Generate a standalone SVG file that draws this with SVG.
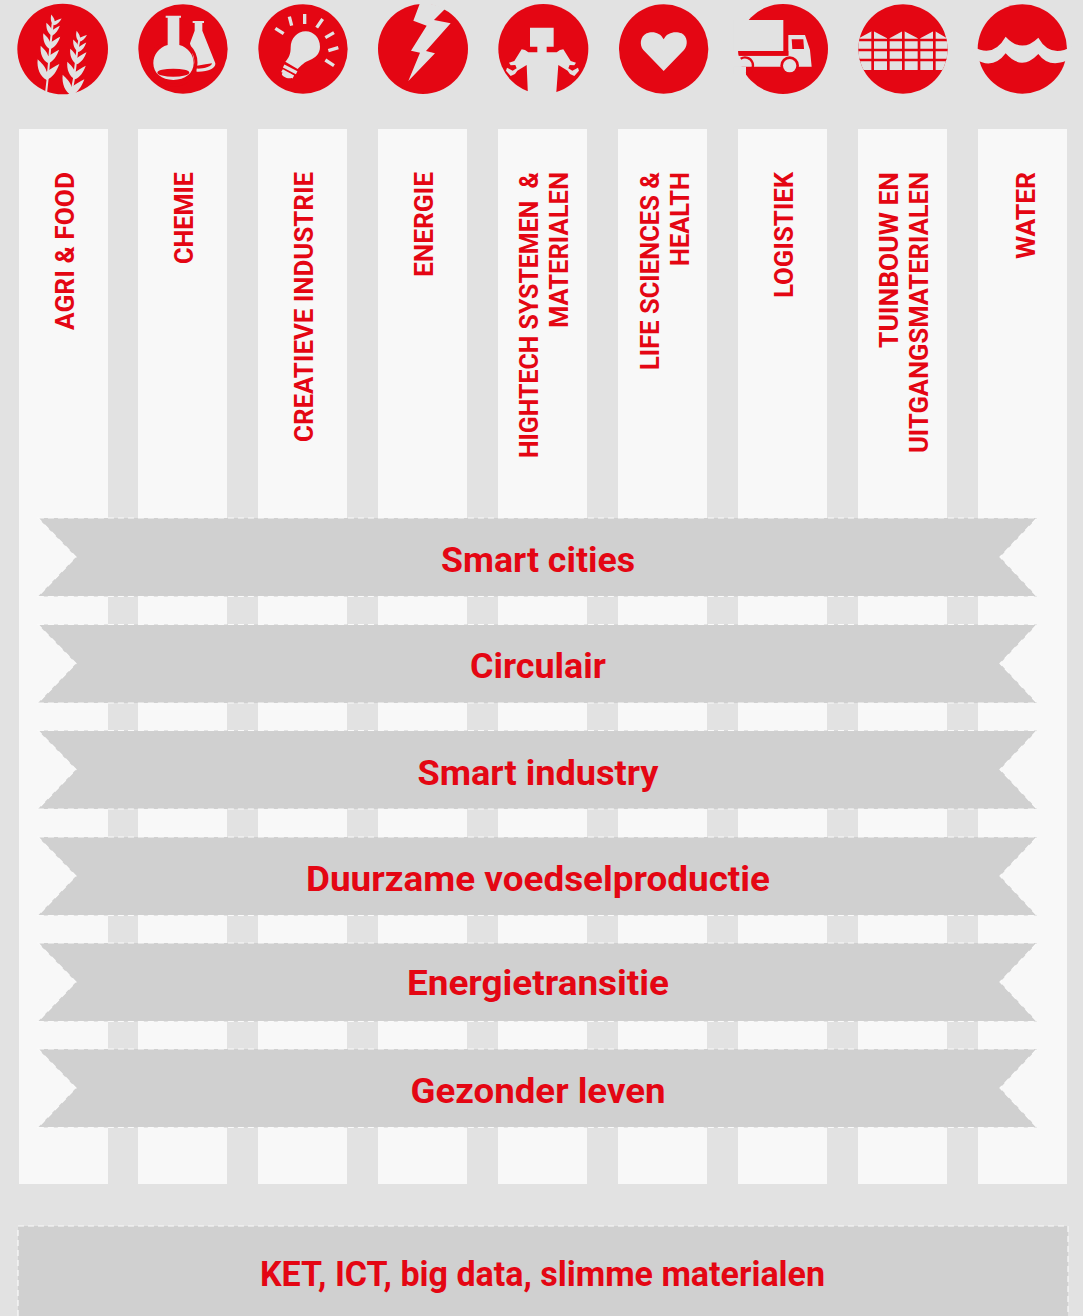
<svg xmlns="http://www.w3.org/2000/svg" xmlns:xlink="http://www.w3.org/1999/xlink" width="1083" height="1316" viewBox="0 0 1083 1316">
<style>
.col{fill:#f8f8f8}
.rb{fill:#d0d0d0;stroke:#fafafa;stroke-width:1.200;stroke-dasharray:6 4}
.red{fill:#e40613}
.bg{fill:#e2e2e2}
.bgs{fill:none;stroke:#e2e2e2;stroke-linecap:butt}
.reds{fill:none;stroke:#e40613}
.v{font-family:Roboto,"Liberation Sans",sans-serif;font-weight:700;font-size:26px;fill:#e40613;text-anchor:end}
.h{font-family:Roboto,"Liberation Sans",sans-serif;font-weight:700;font-size:35px;fill:#e40613;text-anchor:middle}
</style>
<defs>
<path id="rib" d="M38,0H1037L1000,39L1037,78.500H38L76,39Z"/>
<path id="leaf" d="M0,0C-20,-10 -30,-35 -27,-62C-15,-50 -5,-42 0,-25C10,-32 25,-42 38,-48C30,-25 18,-8 0,0Z"/>
<clipPath id="c8"><circle cx="549" cy="147" r="134"/></clipPath>
</defs>
<rect width="1083" height="1316" class="bg"/>
<g id="columns">
<rect class="col" x="19" y="129" width="89" height="1055"/>
<rect class="col" x="138" y="129" width="89" height="1055"/>
<rect class="col" x="258" y="129" width="89" height="1055"/>
<rect class="col" x="378" y="129" width="89" height="1055"/>
<rect class="col" x="498" y="129" width="89" height="1055"/>
<rect class="col" x="618" y="129" width="89" height="1055"/>
<rect class="col" x="738" y="129" width="89" height="1055"/>
<rect class="col" x="858" y="129" width="89" height="1055"/>
<rect class="col" x="978" y="129" width="89" height="1055"/>
</g>
<g id="icon-agri" transform="scale(.33333)">
<circle class="red" cx="188" cy="147" r="136"/>
<path class="bgs" stroke-width="6" d="M138,280L143,235L150,150L158,70"/>
<path class="bgs" stroke-width="6" d="M212,290L222,235L232,150L238,120"/>
<use href="#leaf" class="bg" transform="translate(140,240)"/>
<use href="#leaf" class="bg" transform="translate(145,190) scale(.85)"/>
<use href="#leaf" class="bg" transform="translate(151,148) scale(.78)"/>
<use href="#leaf" class="bg" transform="translate(156,107) scale(.62)"/>
<use href="#leaf" class="bg" transform="translate(162,76) scale(.5) rotate(10)"/>
<use href="#leaf" class="bg" transform="translate(215,286)"/>
<use href="#leaf" class="bg" transform="translate(225,238) scale(.85)"/>
<use href="#leaf" class="bg" transform="translate(231,193) scale(.75)"/>
<use href="#leaf" class="bg" transform="translate(236,156) scale(.6)"/>
<use href="#leaf" class="bg" transform="translate(238,125) scale(.5) rotate(10)"/>
</g>
<g id="icon-chemie" transform="scale(.33333)">
<circle class="red" cx="549" cy="147" r="134"/>
<path class="bg" d="M578,63H612V69H607V92L646,190C648,205 625,216 590,215L570,130L584,92V69H578Z"/>
<path class="red" d="M590,197C610,194 625,192 636,190C636,199 615,206 592,206Z"/>
<circle class="reds" stroke-width="9" cx="520" cy="188" r="68"/>
<path class="bg" d="M497,47H543V53H538V135C565,142 581,165 581,190C581,220 555,240 520,240C485,240 460,220 460,190C460,165 476,142 503,135V53H497Z"/>
<ellipse class="red" cx="520" cy="218" rx="48" ry="12"/>
</g>
<g id="icon-creatieve" transform="scale(.33333)">
<circle class="red" cx="909" cy="147" r="134"/>
<path class="bg" d="M872,143C872,115 892,94 917,94C942,94 960,115 960,140C960,160 948,172 930,180C912,187 905,195 893,207L856,185C868,172 872,160 872,143Z"/>
<path class="bgs" stroke-width="10" d="M851,198L890,218M846,212L880,231"/>
<ellipse class="bg" cx="862" cy="226" rx="17" ry="8" transform="rotate(15 862 226)"/>
<path class="bgs" stroke-width="10" d="M826,85L851,101M868,50L875,77M914,42V72M968,57L950,83M1002,98L976,113M1015,143L985,152M1002,197L976,180"/>
</g>
<g id="icon-energie" transform="translate(360,0) scale(.33333)">
<circle class="red" cx="189" cy="147" r="135"/>
<polygon class="bg" points="182,4 160,62 200,77 153,152 180,158 145,243 225,160 198,153 272,70 222,60 258,24"/>
</g>
<g id="icon-hightech" transform="translate(360,0) scale(.33333)">
<circle class="red" cx="550" cy="147" r="135"/>
<path class="bg" d="M510,83H581V140H560V157H590L600,150L610,148L632,183L648,188L643,196L629,195L625,205L637,212L654,203L657,212L643,228L630,222L623,212L595,195L588,290H504L500,195L472,212L465,222L452,228L438,212L441,203L458,212L470,205L466,195L452,196L447,188L463,183L485,148L495,150L505,157H532V140H510Z"/>
</g>
<g id="icon-life" transform="translate(360,0) scale(.33333)">
<circle class="red" cx="911" cy="147" r="134"/>
<path class="bg" d="M911,118C900,95 875,93 860,100C840,110 838,135 850,150L911,213L972,150C985,135 983,110 965,100C948,93 922,95 911,118Z"/>
</g>
<g id="icon-logistiek" transform="translate(720,0) scale(.33333)">
<circle class="red" cx="189" cy="147" r="135"/>
<path class="bg" d="M40,60H190V153H40Z"/>
<path class="bg" d="M40,167H205V105H255L270,150L275,200H40Z"/>
<rect class="red" x="57" y="153" width="148" height="14"/>
<path class="red" d="M215,118H250L252,147H217Z"/>
<circle class="red" cx="209" cy="197" r="28"/>
<circle class="bg" cx="209" cy="197" r="20"/>
<path class="bg" d="M40,200H78V225H40Z"/>
<path class="reds" stroke-width="7" d="M62,176A24,24 0 1 1 78,220"/>
</g>
<g id="icon-tuinbouw" transform="translate(720,0) scale(.33333)">
<circle class="red" cx="549" cy="147" r="134"/>
<polygon class="bg" clip-path="url(#c8)" points="400,114 418,114 458,92 500,114 510,114 550,92 592,114 602,114 643,92 680,114 700,114 700,210 400,210"/>
<path class="reds" clip-path="url(#c8)" stroke-width="7" d="M400,120H700M400,150H700M400,180H700"/>
<path class="reds" stroke-width="8" d="M458,90V212M505,105V212M550,90V212M597,105V212M643,90V212"/>
</g>
<g id="icon-water" transform="translate(720,0) scale(.33333)">
<circle class="red" cx="907" cy="147" r="134"/>
<path class="bg" d="M760,140Q820,175 857,110Q905,162 955,113Q990,175 1055,140L1055,175Q990,210 955,162Q905,215 857,160Q820,210 765,178Z"/>
</g>
<g id="labels">
<text class="v" transform="translate(74,172) rotate(-90)" textLength="158" lengthAdjust="spacingAndGlyphs">AGRI &amp; FOOD</text>
<text class="v" transform="translate(193,172) rotate(-90)" textLength="92" lengthAdjust="spacingAndGlyphs">CHEMIE</text>
<text class="v" transform="translate(313,172) rotate(-90)" textLength="270" lengthAdjust="spacingAndGlyphs">CREATIEVE INDUSTRIE</text>
<text class="v" transform="translate(433,172) rotate(-90)" textLength="105" lengthAdjust="spacingAndGlyphs">ENERGIE</text>
<text class="v" transform="translate(538,172) rotate(-90)" xml:space="preserve" textLength="286" lengthAdjust="spacingAndGlyphs">HIGHTECH SYSTEMEN  &amp;</text>
<text class="v" transform="translate(568,172) rotate(-90)" textLength="156" lengthAdjust="spacingAndGlyphs">MATERIALEN</text>
<text class="v" transform="translate(659,172) rotate(-90)" textLength="198" lengthAdjust="spacingAndGlyphs">LIFE SCIENCES &amp;</text>
<text class="v" transform="translate(689,172) rotate(-90)" textLength="94" lengthAdjust="spacingAndGlyphs">HEALTH</text>
<text class="v" transform="translate(793,172) rotate(-90)" textLength="126" lengthAdjust="spacingAndGlyphs">LOGISTIEK</text>
<text class="v" transform="translate(898,172) rotate(-90)" textLength="176" lengthAdjust="spacingAndGlyphs">TUINBOUW EN</text>
<text class="v" transform="translate(928,172) rotate(-90)" textLength="281" lengthAdjust="spacingAndGlyphs">UITGANGSMATERIALEN</text>
<text class="v" transform="translate(1035,172) rotate(-90)" textLength="87" lengthAdjust="spacingAndGlyphs">WATER</text>
</g>
<g id="ribbon-smart-cities"><use href="#rib" class="rb" y="518"/><text class="h" x="538" y="572" textLength="194" lengthAdjust="spacingAndGlyphs">Smart cities</text></g>
<g id="ribbon-circulair"><use href="#rib" class="rb" y="624.500"/><text class="h" x="538" y="678" textLength="136" lengthAdjust="spacingAndGlyphs">Circulair</text></g>
<g id="ribbon-smart-industry"><use href="#rib" class="rb" y="730.500"/><text class="h" x="538" y="785" textLength="241" lengthAdjust="spacingAndGlyphs">Smart industry</text></g>
<g id="ribbon-voedsel"><use href="#rib" class="rb" y="837"/><text class="h" x="538" y="891" textLength="464" lengthAdjust="spacingAndGlyphs">Duurzame voedselproductie</text></g>
<g id="ribbon-energie"><use href="#rib" class="rb" y="943"/><text class="h" x="538" y="995" textLength="262" lengthAdjust="spacingAndGlyphs">Energietransitie</text></g>
<g id="ribbon-gezonder"><use href="#rib" class="rb" y="1049"/><text class="h" x="538" y="1103" textLength="255" lengthAdjust="spacingAndGlyphs">Gezonder leven</text></g>
<g id="ket">
<rect class="rb" x="18" y="1226" width="1050" height="110"/>
<text class="h" x="542.500" y="1286" textLength="565" lengthAdjust="spacingAndGlyphs">KET, ICT, big data, slimme materialen</text>
</g>
<g id="connectors"/>
</svg>
